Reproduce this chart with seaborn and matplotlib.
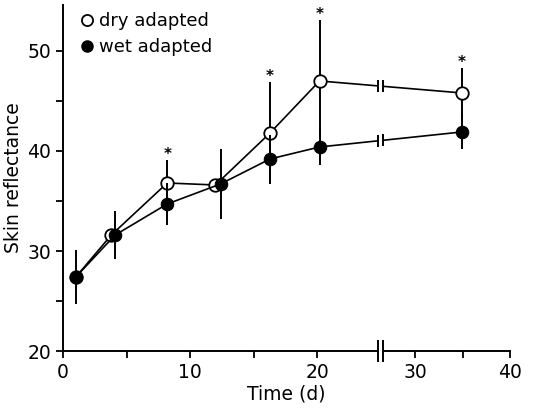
import numpy as np
import pandas as pd
import matplotlib
matplotlib.use("Agg")
import matplotlib.pyplot as plt
from matplotlib.lines import Line2D
import seaborn as sns

# ---------------------------
# data
# ---------------------------
days_dry = [1, 3.8, 8.2, 12.0, 16.3, 20.2, 34.9]
days_wet = [1, 4.1, 8.2, 12.4, 16.3, 20.2, 34.9]
dry = [27.4, 31.6, 36.8, 36.6, 41.8, 47.0, 45.8]
wet = [27.4, 31.6, 34.7, 36.7, 39.2, 40.4, 41.9]
dry_err = [0, 0, 2.3, 0, 5.1, 6.1, 2.5]     # hidden behind wet bars where 0
wet_err = [2.7, 2.4, 2.1, 3.5, 2.4, 1.8, 1.7]
sig_days = [8.2, 16.3, 20.2, 34.9]   # asterisks above dry adapted

x_ticks = [0, 10, 20, 30, 40]
y_ticks = [20, 30, 40, 50]

# broken time axis
BRK_LO, BRK_HI = 24.8, 26.6
GAP = 0.4
K = 0.748


def fwd(x):
    x = np.asarray(x, dtype=float)
    return np.where(x <= BRK_LO, x,
                    np.where(x < BRK_HI, BRK_LO + (x - BRK_LO) * GAP / (BRK_HI - BRK_LO),
                             BRK_LO + GAP + (x - BRK_HI) * K))


def inv(u):
    u = np.asarray(u, dtype=float)
    return np.where(u <= BRK_LO, u,
                    np.where(u < BRK_LO + GAP, BRK_LO + (u - BRK_LO) * (BRK_HI - BRK_LO) / GAP,
                             BRK_HI + (u - BRK_LO - GAP) / K))


sns.set_style("ticks")
plt.rcParams['font.family'] = ['DejaVu Sans']
for k in ['text.color', 'axes.labelcolor', 'xtick.color', 'ytick.color', 'axes.edgecolor']:
    plt.rcParams[k] = 'black'

fig = plt.figure(figsize=(5.44, 4.12), dpi=100)
ax = fig.add_axes([0.116, 0.148, 0.822, 0.84])
ax.set_xscale('function', functions=(fwd, inv))

df_dry = pd.DataFrame({"day": days_dry, "val": dry})
df_wet = pd.DataFrame({"day": days_wet, "val": wet})

# dry adapted (open)
ax.errorbar(days_dry, dry, yerr=dry_err, fmt='none', ecolor='black', elinewidth=1.4, capsize=0, zorder=2)
sns.lineplot(data=df_dry, x="day", y="val", color='black', lw=1.2, marker='o', markersize=9,
             markerfacecolor='white', markeredgecolor='black', markeredgewidth=1.3, ax=ax, zorder=3)
# wet adapted (filled)
ax.errorbar(days_wet, wet, yerr=wet_err, fmt='none', ecolor='black', elinewidth=1.4, capsize=0, zorder=4)
sns.lineplot(data=df_wet, x="day", y="val", color='black', lw=1.2, marker='o', markersize=9,
             markerfacecolor='black', markeredgecolor='black', ax=ax, zorder=5)

# significance stars
for d in sig_days:
    i = days_dry.index(d)
    ax.text(d, dry[i] + dry_err[i] + 0.55, '*', ha='center', va='center', fontsize=11,
            fontweight='bold', zorder=6)

# break marks on the lines
for xs, ys in [(days_dry, dry), (days_wet, wet)]:
    u = fwd(xs)
    yb = np.interp(fwd([BRK_LO, BRK_HI]), u, ys)
    ax.plot([BRK_LO, BRK_HI], yb, color='white', lw=3, zorder=6, solid_capstyle='butt')
    ax.plot([BRK_LO, BRK_HI], yb, ls='none', marker='|', markersize=8, mew=1.4, color='black', zorder=7)

# break on x axis
ax.plot([BRK_LO, BRK_HI], [20, 20], color='white', lw=3, zorder=8, clip_on=False, solid_capstyle='butt')
ax.plot([BRK_LO, BRK_HI], [20, 20], ls='none', marker='|', markersize=16, mew=1.4, color='black',
        zorder=9, clip_on=False)

ax.set_xlim(0, 40)
ax.set_ylim(20, 54.6)
ax.set_xticks(x_ticks)
ax.set_xticks([5, 15, 35], minor=True)
ax.set_yticks(y_ticks)
ax.set_yticks([25, 35, 45], minor=True)
ax.tick_params(which='both', direction='out', width=1.3, labelsize=13.5, color='black', labelcolor='black')
ax.tick_params(which='major', length=5)
ax.tick_params(which='minor', length=5)

sns.despine(ax=ax)
for s in ['left', 'bottom']:
    ax.spines[s].set_linewidth(1.4)
    ax.spines[s].set_color('black')

ax.set_xlabel("Time (d)", fontsize=13.5, labelpad=2, color='black')
ax.set_ylabel("Skin reflectance", fontsize=13.5, labelpad=3, color='black')

handles = [
    Line2D([], [], ls='none', marker='o', markersize=8, markerfacecolor='white', markeredgecolor='black', mew=1.3),
    Line2D([], [], ls='none', marker='o', markersize=8, markerfacecolor='black', markeredgecolor='black'),
]
leg = ax.legend(handles, ["dry adapted", "wet adapted"], loc='upper left', frameon=False, fontsize=13,
                handletextpad=0.15, handlelength=1.0, borderaxespad=0.2, labelspacing=0.45,
                bbox_to_anchor=(0.01, 1.01))
for t in leg.get_texts():
    t.set_color('black')

fig.savefig("out.png", dpi=100)
